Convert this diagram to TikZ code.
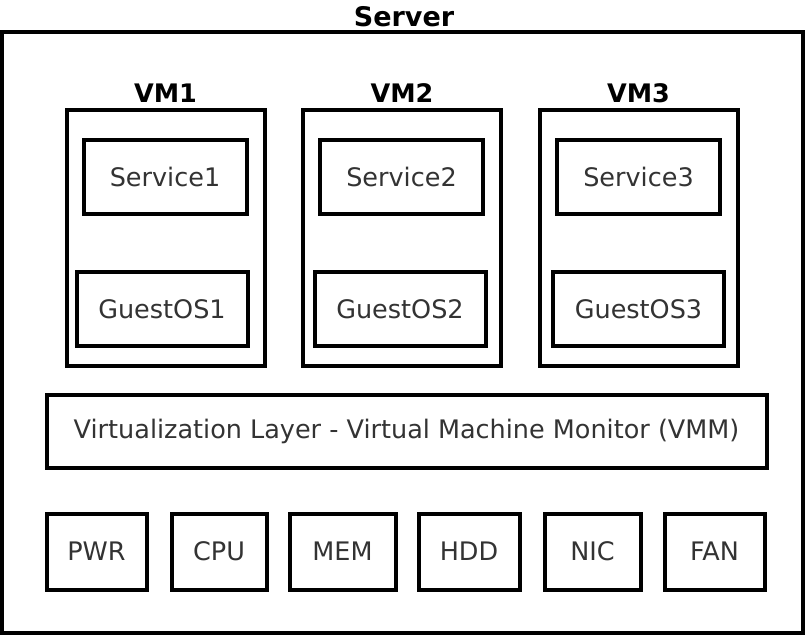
\documentclass[tikz,border=0pt]{standalone}
\usepackage{fontspec}
\setmainfont{DejaVu Sans}
\begin{document}
\begin{tikzpicture}[x=1pt,y=-1pt,
  box/.style={draw=black, line width=4pt, rectangle, inner sep=0pt, fill=white,
    font=\fontsize{25.5}{29}\selectfont, text=black!80},
  title/.style={font=\fontsize{25.5}{28}\selectfont\bfseries, text=black, inner sep=0pt, anchor=base}]
  \useasboundingbox (0,0) rectangle (805,635);
  % outer server enclosure
  \node[box, minimum width=801pt, minimum height=601pt] (server) at (402.5,332) {};
  \node[title, font=\fontsize{27}{30}\selectfont\bfseries] (servert) at (404,26) {Server};

  % virtual machines
  \foreach \n/\vx/\sx/\gx in {1/165.5/165/162, 2/402/401.5/400, 3/638.5/638.5/638.5} {
    \node[box, minimum width=198pt, minimum height=256pt] (vm\n) at (\vx,237.5) {};
    \node[title] (vm\n t) at (\vx,102) {VM\n};
    \node[box, minimum width=163pt, minimum height=74pt] (svc\n) at (\sx,176.5) {Service\n};
    \node[box, minimum width=171pt, minimum height=74pt] (gos\n) at (\gx,309) {GuestOS\n};
  }

  % hypervisor layer
  \node[box, minimum width=720pt, minimum height=73pt] (vmm) at (406.5,431)
    {Virtualization Layer - Virtual Machine Monitor (VMM)};

  % hardware components
  \foreach \name/\cx/\w in {PWR/96.5/100, CPU/219/95, MEM/342.5/106, HDD/469/101, NIC/592.5/96, FAN/714.5/100} {
    \node[box, minimum width=\w pt, minimum height=76pt] (\name) at (\cx,551.5) {\name};
  }
\end{tikzpicture}
\end{document}
